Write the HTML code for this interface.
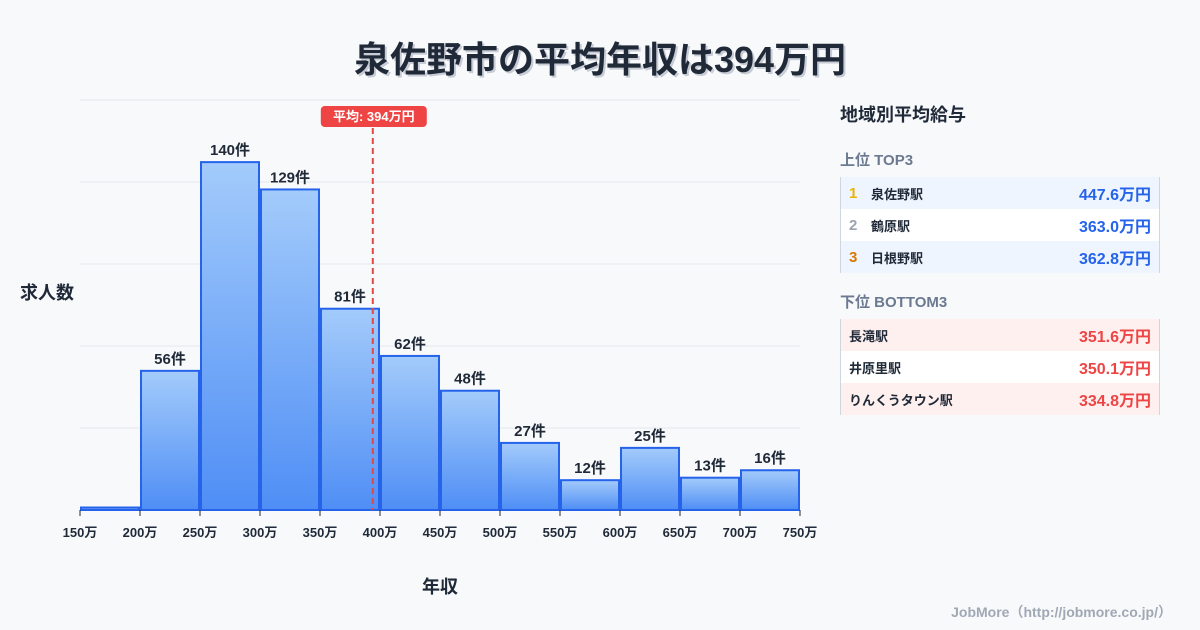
<!DOCTYPE html>
<html><head><meta charset="utf-8">
<style>
body{margin:0;width:1200px;height:630px;background:#f8f9fb;font-family:"Liberation Sans","Noto Sans CJK JP",sans-serif;overflow:hidden;position:relative}
.title{position:absolute;top:31px;left:0;width:1200px;text-align:center;font-size:36px;font-weight:bold;color:#1f2937;text-shadow:2px 2px 0 #c7ccd6}
.panel{position:absolute;left:840px;top:101px;width:320px}
.ph{font-size:18px;font-weight:bold;color:#1f2937;height:34px}
.sh{font-size:15px;font-weight:bold;color:#6b7a90;margin-top:14px;height:28px}
.box{border-left:1px solid #cfd6e0;border-right:1px solid #cfd6e0}
.row{height:32px;display:flex;align-items:center;font-size:13px;font-weight:bold;color:#1f2937;padding:0 8px}
.row .n{width:22px;font-size:15px}
.row .v{margin-left:auto;font-size:16px}
.top .row:nth-child(odd){background:#eef5ff}.top .row:nth-child(even){background:#fff}
.bot .row:nth-child(odd){background:#fff0f0}.bot .row:nth-child(even){background:#fff}
.top .v{color:#2563eb}.bot .v{color:#ef4444}
.bot{margin-top:0}
.foot{position:absolute;right:28px;top:602px;font-size:14px;font-weight:bold;color:#a0a8b4}
</style></head><body>
<div class="title">泉佐野市の平均年収は394万円</div>
<svg id="chart" width="830" height="630" style="position:absolute;left:0;top:0">
<defs><linearGradient id="g" x1="0" y1="0" x2="0" y2="1"><stop offset="0" stop-color="#a3cbfb"/><stop offset="1" stop-color="#4f8ef5"/></linearGradient></defs>
<text x="20" y="299" font-size="18" font-weight="bold" fill="#1f2937">求人数</text>
<text x="440" y="593" font-size="18" font-weight="bold" fill="#1f2937" text-anchor="middle">年収</text>
</svg>
<div class="panel">
<div class="ph">地域別平均給与</div>
<div class="sh">上位 TOP3</div>
<div class="box top">
<div class="row"><span class="n" style="color:#eab308">1</span>泉佐野駅<span class="v">447.6万円</span></div>
<div class="row"><span class="n" style="color:#9ca3af">2</span>鶴原駅<span class="v">363.0万円</span></div>
<div class="row"><span class="n" style="color:#d97706">3</span>日根野駅<span class="v">362.8万円</span></div>
</div>
<div class="sh" style="margin-top:18px;height:28px">下位 BOTTOM3</div>
<div class="box bot">
<div class="row">長滝駅<span class="v">351.6万円</span></div>
<div class="row">井原里駅<span class="v">350.1万円</span></div>
<div class="row">りんくうタウン駅<span class="v">334.8万円</span></div>
</div>
</div>
<div class="foot">JobMore（http://jobmore.co.jp/）</div>
<script>
const binEdges=[150,200,250,300,350,400,450,500,550,600,650,700,750];
const counts=[1,56,140,129,81,62,48,27,12,25,13,16];
const avgSalary=394;
const yMax=165, gridStep=33;
const svg=document.getElementById('chart');
const NS='http://www.w3.org/2000/svg';
const X0=80,X1=800,Y0=510,Y1=100;
const xs=v=>X0+(v-150)/(750-150)*(X1-X0);
const ys=v=>Y0-v/yMax*(Y0-Y1);
function mk(t,a){const e=document.createElementNS(NS,t);for(const k in a)e.setAttribute(k,a[k]);svg.appendChild(e);return e;}
for(let v=gridStep;v<=yMax;v+=gridStep){
 const l=mk('line',{x1:X0,x2:X1,y1:ys(v),y2:ys(v),stroke:'#e3e7ed','stroke-width':1});
 
 
}
counts.forEach((c,i)=>{
 const x=xs(binEdges[i])+1,w=xs(binEdges[i+1])-xs(binEdges[i])-2,y=ys(c);
 const r=mk('rect',{x:x,y:y,width:w,height:Y0-y,fill:'url(#g)',stroke:'#2563eb','stroke-width':2});
 
 
 if(c>=5){const t=mk('text',{x:x+w/2,y:y-7,'text-anchor':'middle','font-size':15,'font-weight':'bold',fill:'#1f2937'});t.textContent=c+'件';
 
 }
});
binEdges.forEach(b=>{
 const tk=mk('line',{x1:xs(b),x2:xs(b),y1:Y0,y2:Y0+6,stroke:'#1f2937','stroke-width':1});
 
 
 const t=mk('text',{x:xs(b),y:Y0+27,'text-anchor':'middle','font-size':13,'font-weight':'bold',fill:'#1f2937'});t.textContent=b+'万';
 
 
});
const ax=xs(avgSalary);
const al=mk('line',{x1:ax,x2:ax,y1:128,y2:Y0,stroke:'#e04848','stroke-width':2,'stroke-dasharray':'6,4'});


const ab=mk('rect',{x:ax-52,y:106,width:106,height:21,rx:4,fill:'#ef4444'});


const at=mk('text',{x:ax+1,y:121,'text-anchor':'middle','font-size':13,'font-weight':'bold',fill:'#fff'});at.textContent='平均: '+avgSalary+'万円';


</script>
</body></html>
